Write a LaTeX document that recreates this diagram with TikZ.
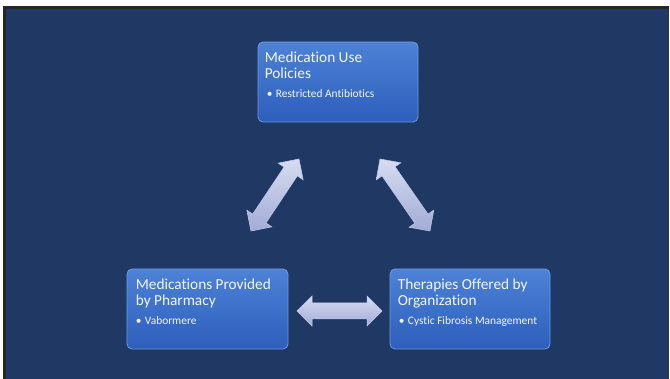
\documentclass[tikz,border=0pt]{standalone}
\usepackage{fontspec}
\setmainfont{Carlito}[Ligatures=NoCommon]
\usetikzlibrary{calc}

\definecolor{slidebg}{HTML}{1F3864}
\definecolor{boxtop}{HTML}{4D82D6}
\definecolor{boxbot}{HTML}{2D5EBC}
\definecolor{boxedge}{HTML}{6E9BE2}
\definecolor{arrtop}{HTML}{D6DCF0}
\definecolor{arrbot}{HTML}{A1ACD6}
\definecolor{arredge}{HTML}{C3CBE8}
\definecolor{txt}{HTML}{F4F6FB}

\tikzset{
  infobox/.style={rectangle, rounded corners=5pt, minimum width=160pt,
    minimum height=80pt, inner sep=0pt, top color=boxtop, bottom color=boxbot,
    draw=boxedge, line width=0.8pt},
  headtext/.style={anchor=base west, inner sep=0pt, text=txt,
    font=\fontsize{15.3}{17}\selectfont},
  itemtext/.style={anchor=base west, inner sep=0pt, text=txt,
    font=\fontsize{11.4}{13}\selectfont},
  arrowbody/.style={top color=arrtop, bottom color=arrbot, draw=arredge,
    line width=0.5pt, line join=miter}
}

% two-headed block arrow between two named coordinates
\newcommand\twoway[2]{%
  \shade[arrowbody]
    (#1)
    -- ($(#1)!15pt!(#2)!15pt!90:(#2)$)
    -- ($(#1)!15pt!(#2)!8pt!90:(#2)$)
    -- ($(#2)!15pt!(#1)!8pt!-90:(#1)$)
    -- ($(#2)!15pt!(#1)!15pt!-90:(#1)$)
    -- (#2)
    -- ($(#2)!15pt!(#1)!15pt!90:(#1)$)
    -- ($(#2)!15pt!(#1)!8pt!90:(#1)$)
    -- ($(#1)!15pt!(#2)!8pt!-90:(#2)$)
    -- ($(#1)!15pt!(#2)!15pt!-90:(#2)$)
    -- cycle;}

\begin{document}
\begin{tikzpicture}[x=1pt, y=-1pt]
  \useasboundingbox (0,0) rectangle (670,379);
  % slide backdrop with its dark edge
  \fill[white] (0,0) rectangle (670,379);
  \fill[black!85] (3,6) rectangle (669,379);
  \fill[slidebg] (6,9) rectangle (669,379);

  % the three boxes
  \node[infobox] (policy) at (338,82) {};
  \node[infobox, minimum width=161pt] (pharm) at (207.5,309) {};
  \node[infobox] (therapy) at (470,309) {};

  % box texts
  \node[headtext] (policyA) at ($(policy.north west)+(7,21)$) {Medication Use};
  \node[headtext] (policyB) at ($(policy.north west)+(7,37)$) {Policies};
  \node[itemtext] (policyC) at ($(policy.north west)+(9,56)$) {•\hspace{3.5pt}Restricted Antibiotics};

  \node[headtext] (pharmA) at ($(pharm.north west)+(9,21)$) {Medications Provided};
  \node[headtext] (pharmB) at ($(pharm.north west)+(9,37)$) {by Pharmacy};
  \node[itemtext] (pharmC) at ($(pharm.north west)+(9,56)$) {•\hspace{3.5pt}Vabormere};

  \node[headtext] (therapyA) at ($(therapy.north west)+(8,21)$) {Therapies Offered by};
  \node[headtext] (therapyB) at ($(therapy.north west)+(8,37)$) {Organization};
  \node[itemtext] (therapyC) at ($(therapy.north west)+(9,56)$) {•\hspace{3.5pt}Cystic Fibrosis Management};

  % ends of the block arrows
  \coordinate (leftLow) at (251,231);
  \coordinate (leftHigh) at (299,159);
  \coordinate (rightHigh) at (380,159);
  \coordinate (rightLow) at (430,231);
  \coordinate (midLeft) at (297,311);
  \coordinate (midRight) at (382,311);

  \twoway{leftLow}{leftHigh}
  \twoway{rightHigh}{rightLow}
  \twoway{midLeft}{midRight}
\end{tikzpicture}
\end{document}
